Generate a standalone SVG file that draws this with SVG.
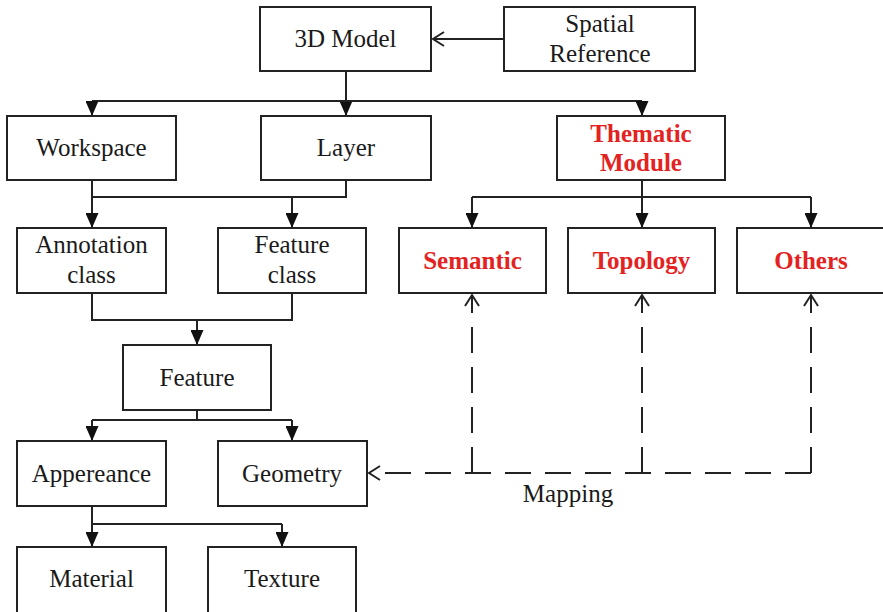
<svg xmlns="http://www.w3.org/2000/svg" width="883" height="612" viewBox="0 0 883 612">
<defs>
<style>
.box{fill:#fff;stroke:#222;stroke-width:2}
.t{font-family:"Liberation Serif","Times New Roman",serif;font-size:25px;fill:#1a1a1a;text-anchor:middle}
.r{font-weight:bold;fill:#e32322}
.c{fill:none;stroke:#222;stroke-width:2}
.a{marker-end:url(#fa)}
.d{stroke-dasharray:26 14}
.o{marker-end:url(#oa)}
</style>
<marker id="fa" markerUnits="userSpaceOnUse" viewBox="0 0 15 13" markerWidth="15" markerHeight="13" refX="15" refY="6.5" orient="auto">
<path d="M0,0 L15,6.5 L0,13 Z" fill="#111"/>
</marker>
<marker id="oa" markerUnits="userSpaceOnUse" viewBox="0 0 14 16" markerWidth="14" markerHeight="16" refX="12" refY="8" orient="auto">
<path d="M1,1 L12,8 L1,15" fill="none" stroke="#222" stroke-width="2"/>
</marker>
</defs>
<rect width="883" height="612" fill="#fff"/>
<g id="connectors">
<path class="c o" d="M504,39 H433"/>
<path class="c a" d="M346,71 V116"/>
<path class="c" d="M92,101 H642"/>
<path class="c a" d="M92,101 V116"/>
<path class="c a" d="M642,101 V116"/>
<path class="c" d="M92,180 V197 H346 V180"/>
<path class="c a" d="M92,197 V228"/>
<path class="c a" d="M292,197 V228"/>
<path class="c a" d="M642,180 V228"/>
<path class="c" d="M472,197 H811"/>
<path class="c a" d="M472,197 V228"/>
<path class="c a" d="M811,197 V228"/>
<path class="c" d="M92,293 V320 H292 V293"/>
<path class="c a" d="M197,320 V345"/>
<path class="c" d="M197,410 V420 M92,420 H292"/>
<path class="c a" d="M92,420 V441"/>
<path class="c a" d="M292,420 V441"/>
<path class="c" d="M92,506 V524 H282"/>
<path class="c a" d="M92,524 V547"/>
<path class="c a" d="M282,524 V547"/>
<path class="c d o" d="M811,473 H369"/>
<path class="c d o" d="M811,473 V295"/>
<path class="c d o" d="M642,473 V295"/>
<path class="c d o" d="M472,473 V295"/>
<text class="t" x="568" y="502">Mapping</text>
</g>
<g id="model3d"><rect class="box" x="260" y="7" width="171" height="64"/><text class="t" x="345.5" y="47">3D Model</text></g>
<g id="spatial"><rect class="box" x="504" y="7" width="191" height="64"/><text class="t" x="600" y="32">Spatial</text><text class="t" x="600" y="62">Reference</text></g>
<g id="workspace"><rect class="box" x="7" y="116" width="169" height="64"/><text class="t" x="91.5" y="156">Workspace</text></g>
<g id="layer"><rect class="box" x="261" y="116" width="170" height="64"/><text class="t" x="346" y="156">Layer</text></g>
<g id="thematic"><rect class="box" x="557" y="116" width="168" height="64"/><text class="t r" x="641" y="142">Thematic</text><text class="t r" x="641" y="171">Module</text></g>
<g id="annotation"><rect class="box" x="17" y="228" width="149" height="65"/><text class="t" x="91.5" y="253">Annotation</text><text class="t" x="91.5" y="283">class</text></g>
<g id="featureclass"><rect class="box" x="218" y="228" width="148" height="65"/><text class="t" x="292" y="253">Feature</text><text class="t" x="292" y="283">class</text></g>
<g id="semantic"><rect class="box" x="399" y="228" width="147" height="65"/><text class="t r" x="472.5" y="269">Semantic</text></g>
<g id="topology"><rect class="box" x="568" y="228" width="147" height="65"/><text class="t r" x="641.5" y="269">Topology</text></g>
<g id="others"><rect class="box" x="737" y="228" width="148" height="65"/><text class="t r" x="811" y="269">Others</text></g>
<g id="feature"><rect class="box" x="123" y="345" width="148" height="65"/><text class="t" x="197" y="386">Feature</text></g>
<g id="appereance"><rect class="box" x="17" y="441" width="149" height="65"/><text class="t" x="91.5" y="482">Appereance</text></g>
<g id="geometry"><rect class="box" x="218" y="441" width="149" height="65"/><text class="t" x="292" y="482">Geometry</text></g>
<g id="material"><rect class="box" x="17" y="547" width="149" height="66"/><text class="t" x="91.5" y="587">Material</text></g>
<g id="texture"><rect class="box" x="208" y="547" width="148" height="66"/><text class="t" x="282" y="587">Texture</text></g>
</svg>
